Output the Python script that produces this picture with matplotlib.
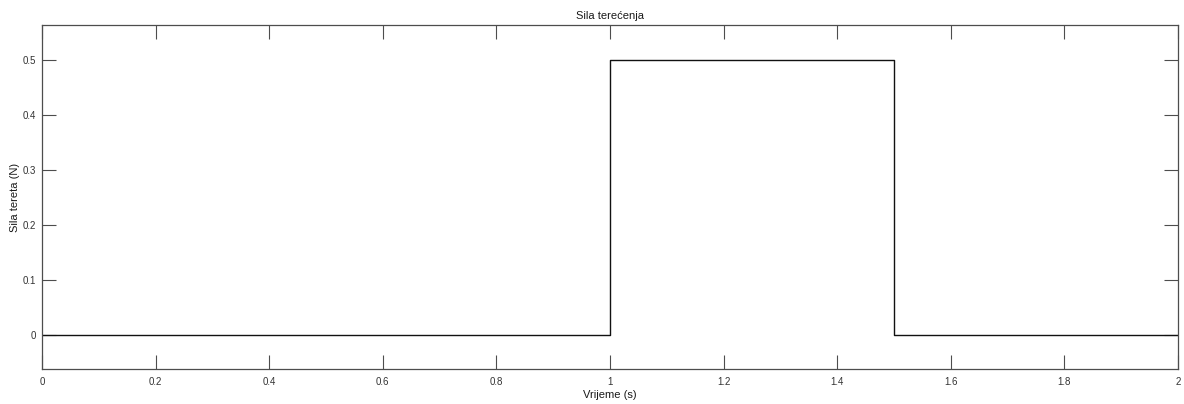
import matplotlib
matplotlib.use('Agg')
import matplotlib.pyplot as plt

# podaci: sila tereta (step)
vrijeme = [0, 1, 1.5, 2]
sila = [0, 0.5, 0, 0]
x_ticks = [0, 0.2, 0.4, 0.6, 0.8, 1, 1.2, 1.4, 1.6, 1.8, 2]
x_labels = ['0', '0.2', '0.4', '0.6', '0.8', '1', '1.2', '1.4', '1.6', '1.8', '2']
y_ticks = [0, 0.1, 0.2, 0.3, 0.4, 0.5]
y_labels = ['0', '0.1', '0.2', '0.3', '0.4', '0.5']

plt.rcParams['font.family'] = ['Liberation Sans', 'DejaVu Sans']

fig = plt.figure(figsize=(11.84, 4.04), dpi=100, facecolor='white')
ax = fig.add_axes([0.0355, 0.0866, 0.9595, 0.8514])

ax.step(vrijeme, sila, where='post', color='#111111', linewidth=1.0)

ax.set_xlim(0, 2)
ax.set_ylim(-0.0618, 0.5636)
ax.set_xticks(x_ticks)
ax.set_xticklabels(x_labels)
ax.set_yticks(y_ticks)
ax.set_yticklabels(y_labels)

for s in ax.spines.values():
    s.set_color('#4d4d4d')
    s.set_linewidth(0.9)

ax.tick_params(direction='in', length=10, width=0.8, colors='#4d4d4d',
               labelcolor='#333333', labelsize=7, top=True, right=True)
ax.tick_params(axis='y', pad=4)
ax.tick_params(axis='x', pad=6)

ax.set_title('Sila terećenja', fontsize=8, color='#1a1a1a', pad=4)
ax.set_xlabel('Vrijeme (s)', fontsize=8, color='#1a1a1a', labelpad=2)
ax.set_ylabel('Sila tereta (N)', fontsize=8, color='#1a1a1a', labelpad=2)

plt.savefig('out.png', dpi=100, facecolor='white')
